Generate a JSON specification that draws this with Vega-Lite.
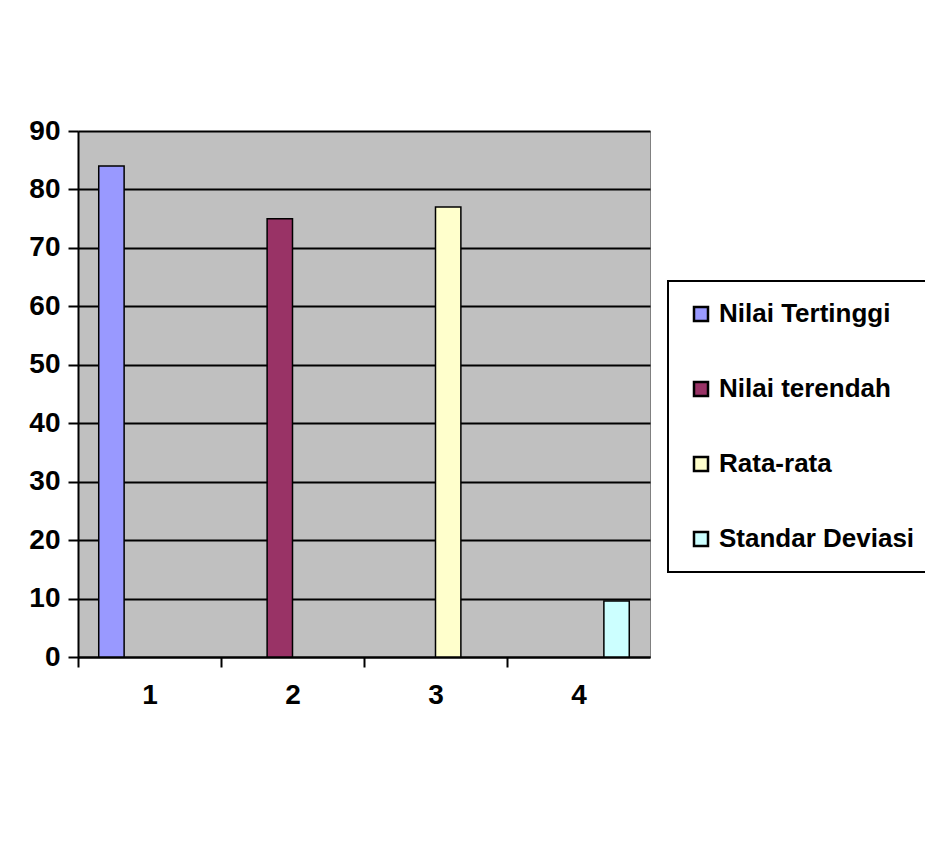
{
  "$schema": "https://vega.github.io/schema/vega-lite/v6.json",
  "width": 572,
  "height": 526,
  "autosize": {"type": "none"},
  "padding": {"left": 78, "top": 131, "right": 275, "bottom": 197},
  "background": "white",
  "config": {
    "view": {"fill": "#C0C0C0", "stroke": "#808080", "strokeWidth": 1},
    "font": "Liberation Sans",
    "legend": {"strokeWidth": 2}
  },
  "data": {
    "values": [
      {"category": "1", "series": "Nilai Tertinggi", "value": 84},
      {"category": "2", "series": "Nilai terendah", "value": 75},
      {"category": "3", "series": "Rata-rata", "value": 77},
      {"category": "4", "series": "Standar Deviasi", "value": 9.6}
    ]
  },
  "mark": {"type": "bar", "stroke": "black", "strokeWidth": 1.5},
  "encoding": {
    "x": {
      "field": "category",
      "type": "nominal",
      "scale": {"paddingInner": 0.29, "paddingOuter": 0.145},
      "axis": {
        "title": null,
        "labelAngle": 0,
        "labelFontSize": 28,
        "labelFontWeight": "bold",
        "labelColor": "black",
        "labelPadding": 14,
        "labelOffset": 71.5,
        "tickColor": "black",
        "tickSize": 10,
        "tickWidth": 2,
        "tickOffset": -71.5,
        "domainColor": "black",
        "domainWidth": 2
      }
    },
    "xOffset": {
      "field": "series",
      "type": "nominal",
      "sort": ["Nilai Tertinggi", "Nilai terendah", "Rata-rata", "Standar Deviasi"],
      "scale": {"paddingInner": 0, "paddingOuter": 0}
    },
    "y": {
      "field": "value",
      "type": "quantitative",
      "scale": {"domain": [0, 90], "nice": false},
      "axis": {
        "title": null,
        "values": [0, 10, 20, 30, 40, 50, 60, 70, 80, 90],
        "labelFontSize": 28,
        "labelFontWeight": "bold",
        "labelColor": "black",
        "labelPadding": 8,
        "tickColor": "black",
        "tickSize": 10,
        "tickWidth": 2,
        "domainColor": "black",
        "domainWidth": 2,
        "grid": true,
        "gridColor": "black",
        "gridWidth": 2
      }
    },
    "color": {
      "field": "series",
      "type": "nominal",
      "scale": {
        "domain": ["Nilai Tertinggi", "Nilai terendah", "Rata-rata", "Standar Deviasi"],
        "range": ["#9999FF", "#993366", "#FFFFCC", "#CCFFFF"]
      },
      "legend": {
        "title": null,
        "orient": "none",
        "legendX": 590,
        "legendY": 150,
        "padding": 20,
        "fillColor": "white",
        "strokeColor": "black",
        "symbolType": "square",
        "symbolSize": 196,
        "symbolStrokeColor": "black",
        "symbolStrokeWidth": 2.5,
        "labelFontSize": 26,
        "labelFontWeight": "bold",
        "labelColor": "black",
        "labelOffset": 5,
        "labelLimit": 400,
        "rowPadding": 49
      }
    }
  }
}
